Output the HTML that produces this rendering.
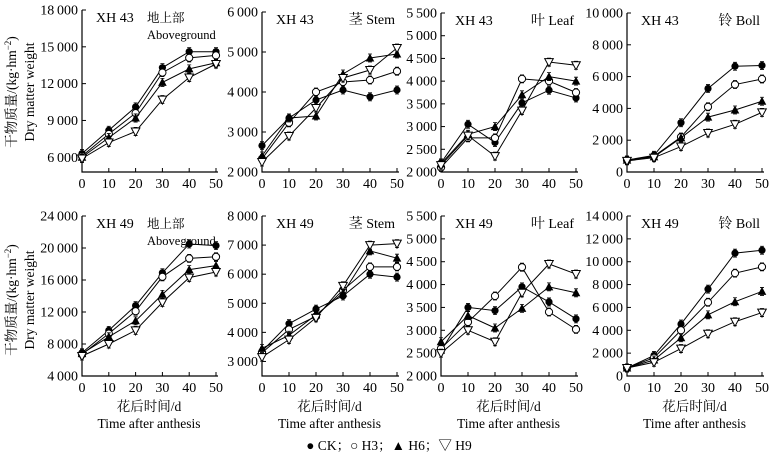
<!DOCTYPE html>
<html><head><meta charset="utf-8"><style>
html,body{margin:0;padding:0;background:#fff;}
svg{display:block;font-family:"Liberation Serif","Noto Serif CJK SC",serif;}
</style></head><body>
<svg id="chart" width="778" height="458" viewBox="0 0 778 458" xmlns="http://www.w3.org/2000/svg">
<g font-size="13.5" fill="#000">
<text transform="translate(16,92) rotate(-90)" text-anchor="middle">干物质量/(kg·hm<tspan dy="-5" font-size="9">−2</tspan><tspan dy="5">)</tspan></text>
<text transform="translate(34,92) rotate(-90)" text-anchor="middle">Dry matter weight</text>
</g>
<g font-size="13.5" fill="#000">
<text transform="translate(16,300) rotate(-90)" text-anchor="middle">干物质量/(kg·hm<tspan dy="-5" font-size="9">−2</tspan><tspan dy="5">)</tspan></text>
<text transform="translate(34,300) rotate(-90)" text-anchor="middle">Dry matter weight</text>
</g>
<g id="panels"></g>
<g font-size="13.5">
<text x="389" y="450" text-anchor="middle">● CK；○ H3；▲ H6；▽ H9</text>
</g>
</svg>
<script>
const days = [0,10,20,30,40,50];
const seriesNames = ['CK','H3','H6','H9'];
// Panel 1: XH43 Aboveground
const p1CK=[6300,8200,10100,13300,14600,14600];
const p1H3=[6100,7900,9600,12900,14100,14300];
const p1H6=[6000,7600,9200,12100,13200,13700];
const p1H9=[5900,7200,8100,10700,12500,13600];
const p1Ticks=[6000,9000,12000,15000,18000];
// Panel 2: XH43 Stem
const p2CK=[2660,3350,3800,4050,3880,4050];
const p2H3=[2330,3230,4000,4250,4300,4520];
const p2H6=[2400,3350,3400,4450,4850,4950];
const p2H9=[2250,2900,3600,4350,4550,5100];
const p2Ticks=[2000,3000,4000,5000,6000];
// Panel 3: XH43 Leaf
const p3CK=[2200,3050,2650,3520,3800,3630];
const p3H3=[2100,2750,2750,4050,4000,3750];
const p3H6=[2180,2830,3000,3700,4100,4000];
const p3H9=[2150,2800,2350,3350,4420,4350];
const p3Ticks=[2000,2500,3000,3500,4000,4500,5000,5500];
// Panel 4: XH43 Boll
const p4CK=[750,1050,3100,5250,6650,6700];
const p4H3=[750,1000,2200,4100,5500,5850];
const p4H6=[750,950,2150,3450,3900,4450];
const p4H9=[700,900,1600,2450,3000,3750];
const p4Ticks=[0,2000,4000,6000,8000,10000];
// Panel 5: XH49 Aboveground
const p5CK=[6900,9700,12800,16900,20500,20300];
const p5H3=[6700,9300,12100,16400,18700,18900];
const p5H6=[6800,8900,10900,14200,17300,17800];
const p5H9=[6500,8000,9700,13200,16300,17000];
const p5Ticks=[4000,8000,12000,16000,20000,24000];
// Panel 6: XH49 Stem
const p6CK=[3350,4300,4800,5250,6000,5900];
const p6H3=[3300,4100,4550,5450,6250,6250];
const p6H6=[3450,3900,4600,5350,6800,6550];
const p6H9=[3150,3750,4500,5600,7000,7050];
const p6Ticks=[3000,4000,5000,6000,7000,8000];
// Panel 7: XH49 Leaf
const p7CK=[2550,3500,3430,3950,3620,3250];
const p7H3=[2600,3180,3750,4380,3400,3020];
const p7H6=[2750,3320,3050,3480,3950,3820];
const p7H9=[2500,3000,2750,3820,4450,4230];
const p7Ticks=[2000,2500,3000,3500,4000,4500,5000,5500];
// Panel 8: XH49 Boll
const p8CK=[700,1800,4550,7600,10750,11000];
const p8H3=[700,1600,4000,6450,9000,9550];
const p8H6=[700,1400,3350,5350,6500,7400];
const p8H9=[700,1200,2400,3700,4750,5550];
const p8Ticks=[0,2000,4000,6000,8000,10000,12000,14000];

const panels=[
 {n:'aboveground-xh43',cult:'XH 43',lab:['地上部','Aboveground'],x0:82,x1:216,yT:10,yB:172,vmin:4800,vmax:18000,s:[p1CK,p1H3,p1H6,p1H9],t:p1Ticks,bottom:false},
 {n:'stem-xh43',cult:'XH 43',lab:['茎 Stem'],x0:262,x1:397,yT:12,yB:172,vmin:2000,vmax:6000,s:[p2CK,p2H3,p2H6,p2H9],t:p2Ticks,bottom:false},
 {n:'leaf-xh43',cult:'XH 43',lab:['叶 Leaf'],x0:441,x1:576,yT:13,yB:172,vmin:2000,vmax:5500,s:[p3CK,p3H3,p3H6,p3H9],t:p3Ticks,bottom:false},
 {n:'boll-xh43',cult:'XH 43',lab:['铃 Boll'],x0:627,x1:762,yT:13,yB:172,vmin:0,vmax:10000,s:[p4CK,p4H3,p4H6,p4H9],t:p4Ticks,bottom:false},
 {n:'aboveground-xh49',cult:'XH 49',lab:['地上部','Aboveground'],x0:82,x1:216,yT:216,yB:376,vmin:4000,vmax:24000,s:[p5CK,p5H3,p5H6,p5H9],t:p5Ticks,bottom:true},
 {n:'stem-xh49',cult:'XH 49',lab:['茎 Stem'],x0:262,x1:397,yT:216,yB:376,vmin:2500,vmax:8000,s:[p6CK,p6H3,p6H6,p6H9],t:p6Ticks,bottom:true},
 {n:'leaf-xh49',cult:'XH 49',lab:['叶 Leaf'],x0:441,x1:576,yT:216,yB:376,vmin:2000,vmax:5500,s:[p7CK,p7H3,p7H6,p7H9],t:p7Ticks,bottom:true},
 {n:'boll-xh49',cult:'XH 49',lab:['铃 Boll'],x0:627,x1:762,yT:216,yB:376,vmin:0,vmax:14000,s:[p8CK,p8H3,p8H6,p8H9],t:p8Ticks,bottom:true}
];
const NS='http://www.w3.org/2000/svg';
function mk(tag,attrs,parent){const e=document.createElementNS(NS,tag);for(const k in attrs)e.setAttribute(k,attrs[k]);parent.appendChild(e);return e;}
function fmt(v){const s=String(v);return s.length>3?s.slice(0,s.length-3)+'\u2009'+s.slice(-3):s;}
const root=document.getElementById('panels');
panels.forEach(p=>{
 const g=mk('g',{},root);
 
 
 const X=d=>p.x0+(d-days[0])/(days[days.length-1]-days[0])*(p.x1-p.x0);
 const Y=v=>p.yB-(v-p.vmin)/(p.vmax-p.vmin)*(p.yB-p.yT);
 const ax=mk('path',{d:`M${p.x0} ${p.yT}V${p.yB}H${p.x1+2}`,fill:'none',stroke:'#000','stroke-width':1.2},g);
 
 
 p.t.forEach(v=>{
  mk('line',{x1:p.x0,x2:p.x0+4,y1:Y(v),y2:Y(v),stroke:'#000'},g);
  const t=mk('text',{x:p.x0-4,y:Y(v)+4.5,'text-anchor':'end','font-size':14},g);
  t.textContent=fmt(v);
  
  
 });
 days.forEach(d=>{
  mk('line',{x1:X(d),x2:X(d),y1:p.yB,y2:p.yB-4,stroke:'#000'},g);
  const t=mk('text',{x:X(d),y:p.yB+16,'text-anchor':'middle','font-size':14},g);
  t.textContent=d;
  
  
 });
 const ct=mk('text',{x:p.x0+14,y:p.yT+12,'font-size':14},g);
 ct.textContent=p.cult;
 
 
 p.lab.forEach((l,i)=>{
  const t=mk('text',p.lab.length>1?{x:p.x0+65,y:p.yT+12+i*17,'font-size':12.5}:{x:p.x1-2,y:p.yT+12,'text-anchor':'end','font-size':14},g);
  t.textContent=l;
  
  
 });
 const err=(p.vmax-p.vmin)*0.025;
 p.s.forEach((vals,si)=>{
  const sg=mk('g',{},g);
  
  
  mk('polyline',{points:vals.map((v,i)=>X(days[i])+','+Y(v)).join(' '),fill:'none',stroke:'#000','stroke-width':1},sg);
  vals.forEach((v,i)=>{
   const x=X(days[i]),y=Y(v);
   mk('path',{d:`M${x} ${Y(v-err)}V${Y(v+err)}M${x-2} ${Y(v+err)}h4M${x-2} ${Y(v-err)}h4`,stroke:'#000','stroke-width':0.8,fill:'none'},sg);
   let m;
   if(si===0)m=mk('circle',{cx:x,cy:y,r:3.6,fill:'#000'},sg);
   else if(si===1)m=mk('circle',{cx:x,cy:y,r:3.6,fill:'#fff',stroke:'#000','stroke-width':1},sg);
   else if(si===2)m=mk('path',{d:`M${x} ${y-4.5}L${x+4.3} ${y+3.5}L${x-4.3} ${y+3.5}Z`,fill:'#000'},sg);
   else m=mk('path',{d:`M${x-4.3} ${y-3.5}L${x+4.3} ${y-3.5}L${x} ${y+4.5}Z`,fill:'#fff',stroke:'#000','stroke-width':1},sg);
   
   
  });
 });
 if(p.bottom){
  const cx=(p.x0+p.x1)/2;
  const a=mk('text',{x:cx,y:411,'text-anchor':'middle','font-size':13.5},g);
  a.textContent='花后时间/d';
  
  
  const b=mk('text',{x:cx,y:428,'text-anchor':'middle','font-size':13.5},g);
  b.textContent='Time after anthesis';
  
  
 }
});
</script>
</body></html>
